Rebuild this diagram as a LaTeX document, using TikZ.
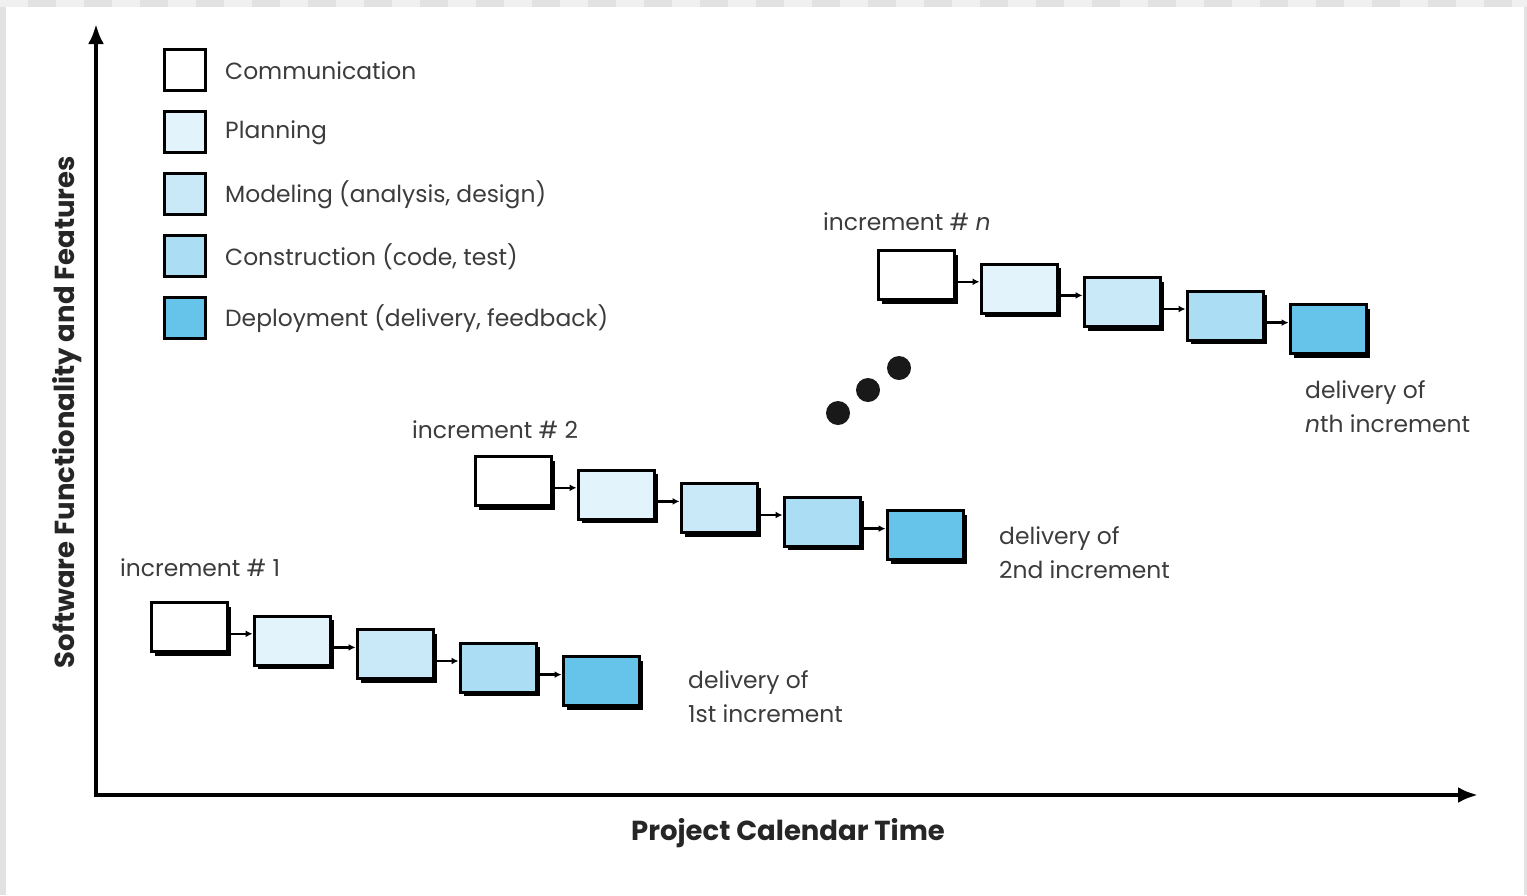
\documentclass[tikz,border=0pt]{standalone}
\usepackage{fontspec}
\setmainfont{Poppins}
\usetikzlibrary{shadows,arrows.meta,calc}

\definecolor{txt}{RGB}{60,60,60}
\definecolor{cComm}{RGB}{255,255,255}
\definecolor{cPlan}{RGB}{227,243,251}
\definecolor{cModel}{RGB}{201,233,248}
\definecolor{cConst}{RGB}{171,221,245}
\definecolor{cDeploy}{RGB}{102,195,234}
\definecolor{edgeA}{RGB}{240,240,240}
\definecolor{edgeB}{RGB}{226,226,226}

\begin{document}
\begin{tikzpicture}[x=1pt,y=-1pt,
  phase/.style={draw=black, line width=3pt, minimum width=76pt, minimum height=49pt,
    inner sep=0pt, drop shadow={shadow xshift=4pt, shadow yshift=-4pt, fill=black, opacity=1}},
  key/.style={draw=black, line width=3.5pt, minimum size=41pt, inner sep=0pt},
  lbl/.style={text=txt, font=\fontsize{23.4}{34}\selectfont, inner sep=0pt},
  axislbl/.style={text=black!85, font=\bfseries\fontsize{27.5}{32}\selectfont, inner sep=0pt},
  link/.style={-{Latex[length=7pt,width=7pt]}, line width=2.5pt},
  axis/.style={{Latex[length=20pt,width=16pt]}-{Latex[length=20pt,width=16pt]}, line width=4.5pt, line join=miter},
  dot/.style={circle, fill=black!90, minimum size=24pt, inner sep=0pt},
]
% page and its grey frame
\useasboundingbox (0,0) rectangle (1527,895);
\fill[white] (0,0) rectangle (1527,895);
\fill[edgeB] (0,0) rectangle (6,895);
\fill[edgeB] (1524,0) rectangle (1527,895);
\foreach \k in {0,...,54} {
  \pgfmathparse{mod(\k,2)==0 ? "edgeA" : "edgeB"}
  \fill[\pgfmathresult] ({28*\k},0) rectangle ({28*\k+28},7);
}

% axes
\coordinate (O) at (96,795);
\coordinate (ytop) at (96,24);
\coordinate (xend) at (1478,795);
\draw[axis] (ytop) -- (O) -- (xend);
\node[axislbl, rotate=90] (ylab) at (67,412) {Software Functionality and Features};
\node[axislbl] (xlab) at (788,833) {Project Calendar Time};

% legend
\foreach \c/\t [count=\i from 0] in {cComm/Communication, cPlan/Planning,
    cModel/{Modeling (analysis, design)}, cConst/{Construction (code, test)},
    cDeploy/{Deployment (delivery, feedback)}} {
  \node[key, fill=\c] (key\i) at (185,{70+62*\i}) {};
  \node[lbl, anchor=west] (keytext\i) at (225,{71+62*\i}) {\t};
}

% the three increments: five phases each, linked left to right
\foreach \inc/\x/\y in {a/189/627, b/513/481, c/916/275} {
  \foreach \c [count=\i from 0] in {cComm,cPlan,cModel,cConst,cDeploy} {
    \node[phase, fill=\c] (\inc\i) at ({\x+103*\i},{\y+13.6*\i}) {};
  }
  \foreach \i [evaluate=\i as \j using int(\i+1)] in {0,...,3} {
    \coordinate (\inc m\i) at ($(\inc\i.center)!0.5!(\inc\j.center)$);
    \draw[link] (\inc\i.east |- \inc m\i) -- (\inc\j.west |- \inc m\i);
  }
}

% increment titles
\node[lbl, anchor=west] (inc1) at (120,568) {increment \# 1};
\node[lbl, anchor=west] (inc2) at (412,430) {increment \# 2};
\node[lbl, anchor=west] (incn) at (823,222) {increment \# \textit{n}};

% delivery notes
\node[lbl, anchor=west, align=left] (del1) at (688,697) {delivery of\\1st increment};
\node[lbl, anchor=west, align=left] (del2) at (999,553) {delivery of\\2nd increment};
\node[lbl, anchor=west, align=left] (deln) at (1305,407) {delivery of\\\textit{n}th increment};

% ellipsis between increments
\node[dot] (dot1) at (838,413) {};
\node[dot] (dot2) at (868,390) {};
\node[dot] (dot3) at (899,368) {};
\end{tikzpicture}
\end{document}
